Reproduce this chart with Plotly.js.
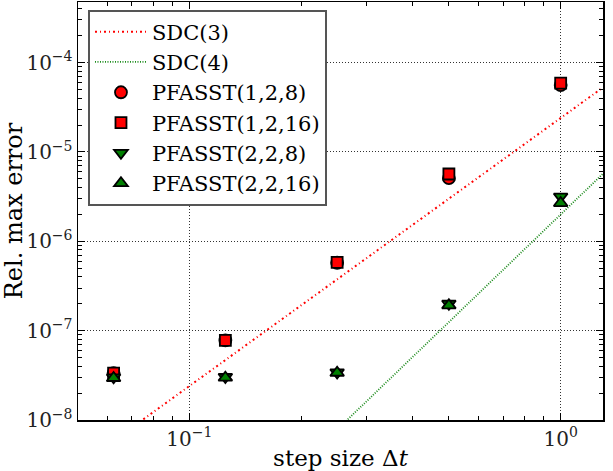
<!DOCTYPE html>
<html>
<head>
<meta charset="utf-8">
<script src="https://cdn.plot.ly/plotly-3.0.1.min.js"></script>
<style>html,body{margin:0;padding:0;background:#fff;}#chart{width:613px;height:471px;}</style>
</head>
<body>
<div id="chart"></div>
<script>
// step sizes
const dt = [0.0625, 0.125, 0.25, 0.5, 1.0];
// reference order lines (endpoints)
const sdcX = [0.05, 1.3];
const sdc3 = [3.0e-9, 5.27e-5];
const sdc4 = [1.25e-11, 5.7e-6];
// PFASST errors
const pf128  = [3.35e-8, 7.8e-8, 5.75e-7, 5.08e-6, 5.6e-5];
const pf1216 = [3.35e-8, 7.8e-8, 5.82e-7, 5.66e-6, 5.88e-5];
const pf228  = [3.0e-8, 3.03e-8, 3.4e-8, 2.0e-7, 3.16e-6];
const pf2216 = [2.95e-8, 2.98e-8, 3.38e-8, 1.92e-7, 2.68e-6];
// tick labels
const xTickVals = [0.1, 1];
const xTickText = ['10<sup>\u22121</sup>', '10<sup>0</sup>'];
const yTickVals = [1e-8, 1e-7, 1e-6, 1e-5, 1e-4];
const yTickText = ['10<sup>\u22128</sup>', '10<sup>\u22127</sup>', '10<sup>\u22126</sup>', '10<sup>\u22125</sup>', '10<sup>\u22124</sup>'];

function minorVals(e0, e1) {
  const v = [];
  for (let e = e0; e <= e1; e++) for (let k = 2; k <= 9; k++) v.push(k * Math.pow(10, e));
  return v;
}

const F = 'DejaVu Serif, serif';
const mk = (sym, col, size) => ({symbol: sym, color: col, size: size, line: {color: '#000', width: 1.8}});

const traces = [
  {x: sdcX, y: sdc3, mode: 'lines', name: 'SDC(3)', line: {color: '#ff0000', width: 2, dash: '2px,3px,1px,3px'}},
  {x: sdcX, y: sdc4, mode: 'lines', name: 'SDC(4)', line: {color: '#1a8a1a', width: 1.8, dash: '1px,1.5px'}},
  {x: dt, y: pf128, mode: 'markers', name: 'PFASST(1,2,8)', marker: mk('circle', '#ff0000', 12)},
  {x: dt, y: pf1216, mode: 'markers', name: 'PFASST(1,2,16)', marker: mk('square', '#ff0000', 11)},
  {x: dt, y: pf228, mode: 'markers', name: 'PFASST(2,2,8)', marker: mk('triangle-down', '#008000', 12)},
  {x: dt, y: pf2216, mode: 'markers', name: 'PFASST(2,2,16)', marker: mk('triangle-up', '#008000', 12)}
];

const axCommon = {
  type: 'log', showline: true, linecolor: '#000', linewidth: 1.5, mirror: 'allticks',
  ticks: 'inside', ticklen: 7, tickwidth: 1, tickcolor: '#000',
  showgrid: true, gridcolor: '#333', griddash: '1px,2px', gridwidth: 1,
  zeroline: false, tickmode: 'array',
  tickfont: {family: F, size: 20, color: '#222'}
};

const layout = {
  width: 613, height: 471,
  margin: {l: 78, r: 10, t: 2, b: 51},
  paper_bgcolor: '#fff', plot_bgcolor: '#fff',
  showlegend: true,
  xaxis: Object.assign({}, axCommon, {
    range: [-1.300, 0.114], tickvals: xTickVals, ticktext: xTickText,
    minor: {tickmode: 'array', tickvals: minorVals(-2, 0), ticks: 'inside', ticklen: 4, tickcolor: '#000', showgrid: false},
    title: {text: 'step size \u0394<i>t</i>', font: {family: F, size: 23, color: '#000'}, standoff: 2}
  }),
  yaxis: Object.assign({}, axCommon, {
    range: [-8, -3.322], tickvals: yTickVals, ticktext: yTickText,
    minor: {tickmode: 'array', tickvals: minorVals(-9, -4), ticks: 'inside', ticklen: 4, tickcolor: '#000', showgrid: false},
    ticklabelstandoff: 0,
    title: {text: 'Rel. max error', font: {family: F, size: 24, color: '#000'}, standoff: 2}
  }),
  legend: {
    x: 0.019, y: 0.982, xanchor: 'left', yanchor: 'top',
    bgcolor: '#fff', bordercolor: '#555', borderwidth: 2,
    font: {family: F, size: 21, color: '#000'},
    itemwidth: 52
  }
};

Plotly.newPlot('chart', traces, layout, {displayModeBar: false, staticPlot: true});
</script>
</body>
</html>
